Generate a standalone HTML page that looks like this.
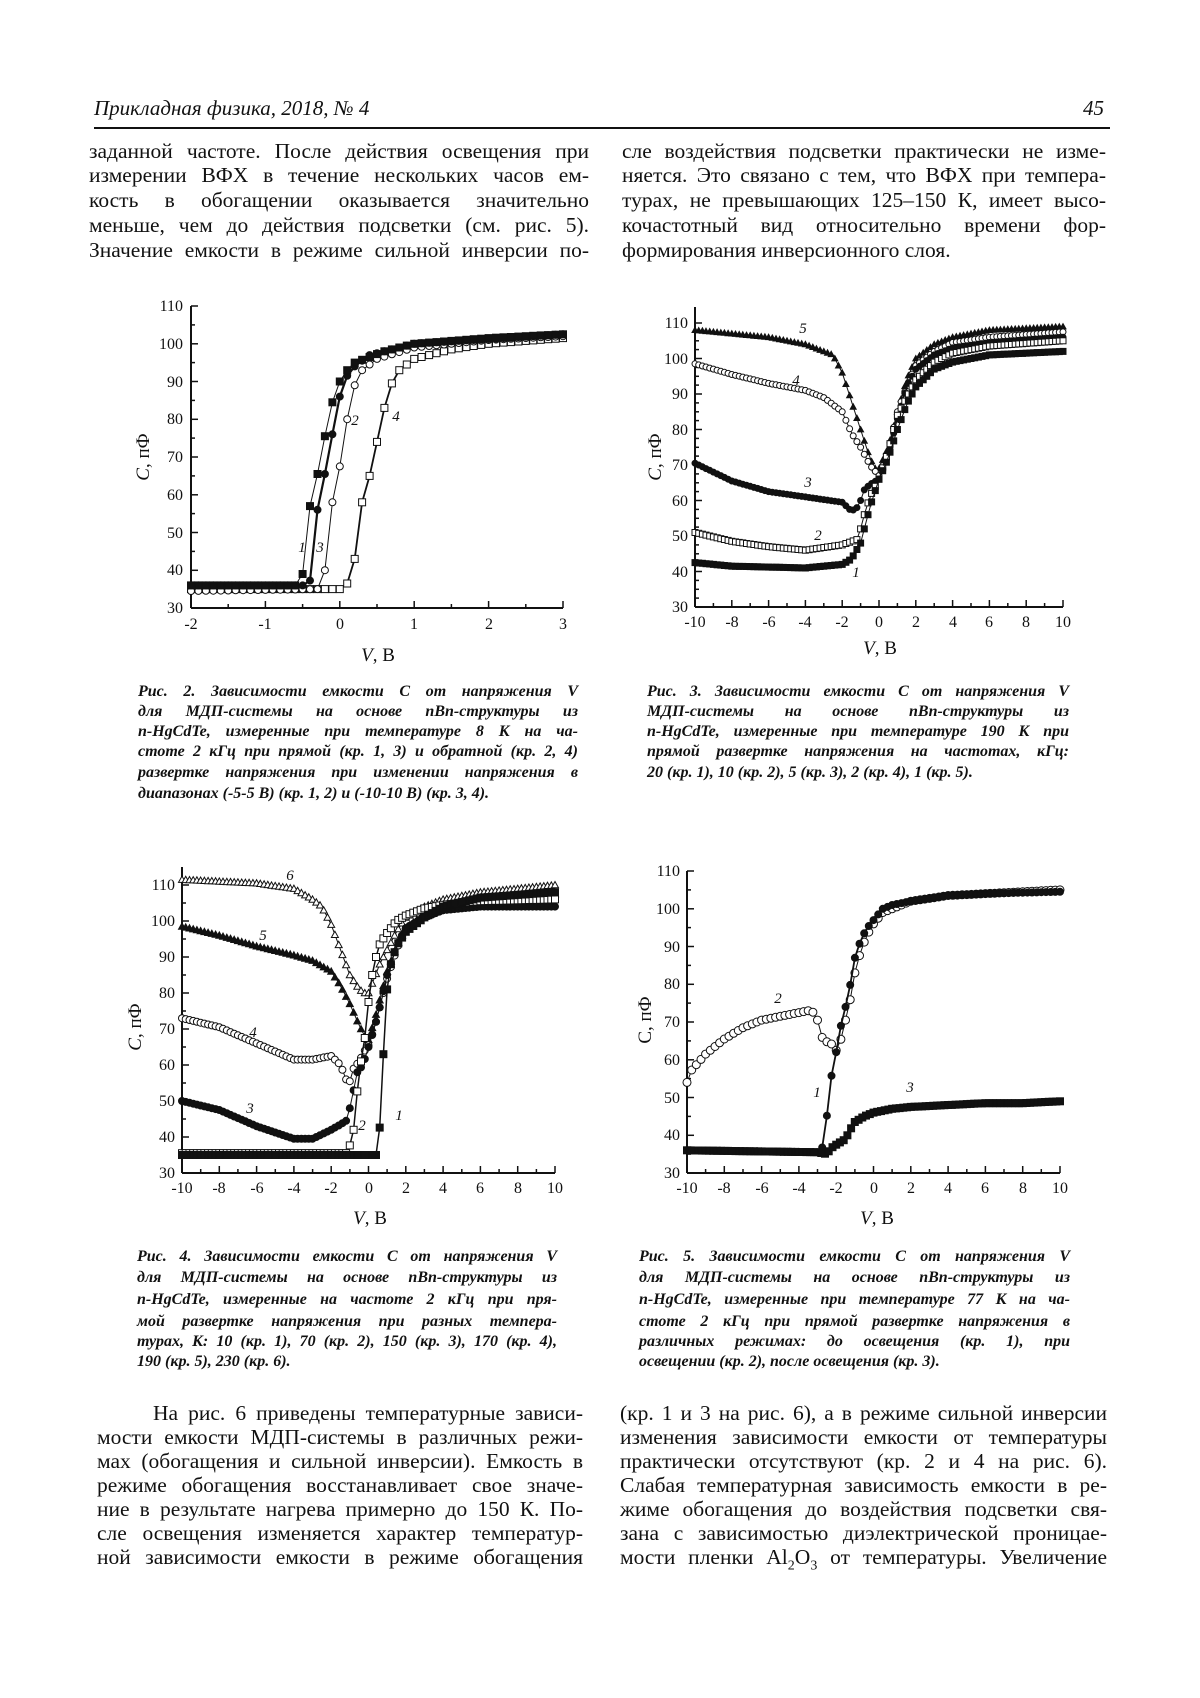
<!DOCTYPE html>
<html><head><meta charset="utf-8">
<style>
body{margin:0;background:#fff;}
#pg{position:relative;width:1200px;height:1698px;overflow:hidden;background:#fff;font-family:"Liberation Serif",serif;color:#111;}
.l{position:absolute;font-size:21.5px;line-height:24px;white-space:nowrap;text-align:justify;text-align-last:justify;}
.c{position:absolute;font-size:16px;line-height:20px;font-weight:bold;font-style:italic;white-space:nowrap;text-align:justify;text-align-last:justify;}
div.ll{text-align-last:left;}
svg{position:absolute;left:0;top:0;}
svg text{font-family:"Liberation Serif",serif;}
</style></head><body><div id="pg">
<div style="position:absolute;left:94px;top:96px;font-size:21px;font-style:italic;">Прикладная физика, 2018, № 4</div>
<div style="position:absolute;left:1083px;top:96px;font-size:21px;font-style:italic;">45</div>
<div style="position:absolute;left:94px;top:127px;width:1016px;height:1.5px;background:#111;"></div>

<div class="l" style="left:89px;top:139px;width:500px">заданной частоте. После действия освещения при</div>
<div class="l" style="left:89px;top:163px;width:500px">измерении ВФХ в течение нескольких часов ем-</div>
<div class="l" style="left:89px;top:188px;width:500px">кость в обогащении оказывается значительно</div>
<div class="l" style="left:89px;top:213px;width:500px">меньше, чем до действия подсветки (см. рис. 5).</div>
<div class="l" style="left:89px;top:238px;width:500px">Значение емкости в режиме сильной инверсии по-</div>

<div class="l" style="left:622px;top:139px;width:484px">сле воздействия подсветки практически не изме-</div>
<div class="l" style="left:622px;top:163px;width:484px">няется. Это связано с тем, что ВФХ при темпера-</div>
<div class="l" style="left:622px;top:188px;width:484px">турах, не превышающих 125–150 К, имеет высо-</div>
<div class="l" style="left:622px;top:213px;width:484px">кочастотный вид относительно времени фор-</div>
<div class="l ll" style="left:622px;top:238px;width:484px">формирования инверсионного слоя.</div>

<div class="c" style="left:138px;top:682px;width:440px">Рис. 2. Зависимости емкости С от напряжения V</div>
<div class="c" style="left:138px;top:702px;width:440px">для МДП-системы на основе nBn-структуры из</div>
<div class="c" style="left:138px;top:722px;width:440px">n-HgCdTe, измеренные при температуре 8 К на ча-</div>
<div class="c" style="left:138px;top:742px;width:440px">стоте 2 кГц при прямой (кр. 1, 3) и обратной (кр. 2, 4)</div>
<div class="c" style="left:138px;top:763px;width:440px">развертке напряжения при изменении напряжения в</div>
<div class="c ll" style="left:138px;top:784px;width:440px">диапазонах (-5-5 В) (кр. 1, 2) и (-10-10 В) (кр. 3, 4).</div>

<div class="c" style="left:647px;top:682px;width:422px">Рис. 3. Зависимости емкости С от напряжения V</div>
<div class="c" style="left:647px;top:702px;width:422px">МДП-системы на основе nBn-структуры из</div>
<div class="c" style="left:647px;top:722px;width:422px">n-HgCdTe, измеренные при температуре 190 К при</div>
<div class="c" style="left:647px;top:742px;width:422px">прямой развертке напряжения на частотах, кГц:</div>
<div class="c ll" style="left:647px;top:763px;width:422px">20 (кр. 1), 10 (кр. 2), 5 (кр. 3), 2 (кр. 4), 1 (кр. 5).</div>

<div class="c" style="left:137px;top:1247px;width:420px">Рис. 4. Зависимости емкости С от напряжения V</div>
<div class="c" style="left:137px;top:1268px;width:420px">для МДП-системы на основе nBn-структуры из</div>
<div class="c" style="left:137px;top:1290px;width:420px">n-HgCdTe, измеренные на частоте 2 кГц при пря-</div>
<div class="c" style="left:137px;top:1312px;width:420px">мой развертке напряжения при разных темпера-</div>
<div class="c" style="left:137px;top:1332px;width:420px">турах, К: 10 (кр. 1), 70 (кр. 2), 150 (кр. 3), 170 (кр. 4),</div>
<div class="c ll" style="left:137px;top:1352px;width:420px">190 (кр. 5), 230 (кр. 6).</div>

<div class="c" style="left:639px;top:1247px;width:431px">Рис. 5. Зависимости емкости С от напряжения V</div>
<div class="c" style="left:639px;top:1268px;width:431px">для МДП-системы на основе nBn-структуры из</div>
<div class="c" style="left:639px;top:1290px;width:431px">n-HgCdTe, измеренные при температуре 77 К на ча-</div>
<div class="c" style="left:639px;top:1312px;width:431px">стоте 2 кГц при прямой развертке напряжения в</div>
<div class="c" style="left:639px;top:1332px;width:431px">различных режимах: до освещения (кр. 1), при</div>
<div class="c ll" style="left:639px;top:1352px;width:431px">освещении (кр. 2), после освещения (кр. 3).</div>

<div class="l" style="left:153px;top:1401px;width:430px">На рис. 6 приведены температурные зависи-</div>
<div class="l" style="left:97px;top:1425px;width:486px">мости емкости МДП-системы в различных режи-</div>
<div class="l" style="left:97px;top:1449px;width:486px">мах (обогащения и сильной инверсии). Емкость в</div>
<div class="l" style="left:97px;top:1473px;width:486px">режиме обогащения восстанавливает свое значе-</div>
<div class="l" style="left:97px;top:1497px;width:486px">ние в результате нагрева примерно до 150 К. По-</div>
<div class="l" style="left:97px;top:1521px;width:486px">сле освещения изменяется характер температур-</div>
<div class="l" style="left:97px;top:1545px;width:486px">ной зависимости емкости в режиме обогащения</div>

<div class="l" style="left:620px;top:1401px;width:487px">(кр. 1 и 3 на рис. 6), а в режиме сильной инверсии</div>
<div class="l" style="left:620px;top:1425px;width:487px">изменения зависимости емкости от температуры</div>
<div class="l" style="left:620px;top:1449px;width:487px">практически отсутствуют (кр. 2 и 4 на рис. 6).</div>
<div class="l" style="left:620px;top:1473px;width:487px">Слабая температурная зависимость емкости в ре-</div>
<div class="l" style="left:620px;top:1497px;width:487px">жиме обогащения до воздействия подсветки свя-</div>
<div class="l" style="left:620px;top:1521px;width:487px">зана с зависимостью диэлектрической проницае-</div>
<div class="l" style="left:620px;top:1545px;width:487px">мости пленки Al<sub style="font-size:14px;line-height:0">2</sub>O<sub style="font-size:14px;line-height:0">3</sub> от температуры. Увеличение</div>

<svg id="s" width="1200" height="1698" viewBox="0 0 1200 1698">
<g font-size="16" fill="#111" text-anchor="end">
<text x="183" y="311">110</text><text x="183" y="349">100</text><text x="183" y="387">90</text><text x="183" y="424">80</text><text x="183" y="462">70</text><text x="183" y="500">60</text><text x="183" y="538">50</text><text x="183" y="575">40</text><text x="183" y="613">30</text>
<text x="688" y="328">110</text><text x="688" y="364">100</text><text x="688" y="399">90</text><text x="688" y="435">80</text><text x="688" y="470">70</text><text x="688" y="506">60</text><text x="688" y="541">50</text><text x="688" y="577">40</text><text x="688" y="612">30</text>
<text x="175" y="890">110</text><text x="175" y="926">100</text><text x="175" y="962">90</text><text x="175" y="998">80</text><text x="175" y="1034">70</text><text x="175" y="1070">60</text><text x="175" y="1106">50</text><text x="175" y="1142">40</text><text x="175" y="1178">30</text>
<text x="680" y="876">110</text><text x="680" y="914">100</text><text x="680" y="952">90</text><text x="680" y="989">80</text><text x="680" y="1027">70</text><text x="680" y="1065">60</text><text x="680" y="1103">50</text><text x="680" y="1140">40</text><text x="680" y="1178">30</text>
</g>
<g font-size="16" fill="#111" text-anchor="middle">
<text x="191" y="629">-2</text><text x="265" y="629">-1</text><text x="340" y="629">0</text><text x="414" y="629">1</text><text x="489" y="629">2</text><text x="563" y="629">3</text>
<text x="695" y="627">-10</text><text x="732" y="627">-8</text><text x="769" y="627">-6</text><text x="805" y="627">-4</text><text x="842" y="627">-2</text><text x="879" y="627">0</text><text x="916" y="627">2</text><text x="953" y="627">4</text><text x="989" y="627">6</text><text x="1026" y="627">8</text><text x="1063" y="627">10</text>
<text x="182" y="1193">-10</text><text x="219" y="1193">-8</text><text x="257" y="1193">-6</text><text x="294" y="1193">-4</text><text x="331" y="1193">-2</text><text x="369" y="1193">0</text><text x="406" y="1193">2</text><text x="443" y="1193">4</text><text x="480" y="1193">6</text><text x="518" y="1193">8</text><text x="555" y="1193">10</text>
<text x="687" y="1193">-10</text><text x="724" y="1193">-8</text><text x="762" y="1193">-6</text><text x="799" y="1193">-4</text><text x="836" y="1193">-2</text><text x="874" y="1193">0</text><text x="911" y="1193">2</text><text x="948" y="1193">4</text><text x="985" y="1193">6</text><text x="1023" y="1193">8</text><text x="1060" y="1193">10</text>
</g>
<g font-size="19" fill="#111" text-anchor="middle">
<text x="378" y="661"><tspan font-style="italic">V</tspan>, В</text>
<text x="880" y="654"><tspan font-style="italic">V</tspan>, В</text>
<text x="370" y="1224"><tspan font-style="italic">V</tspan>, В</text>
<text x="877" y="1224"><tspan font-style="italic">V</tspan>, В</text>
<text transform="translate(149,457) rotate(-90)"><tspan font-style="italic">C</tspan>, пФ</text>
<text transform="translate(661,457) rotate(-90)"><tspan font-style="italic">C</tspan>, пФ</text>
<text transform="translate(141,1027) rotate(-90)"><tspan font-style="italic">C</tspan>, пФ</text>
<text transform="translate(651,1020) rotate(-90)">C, пФ</text>
</g>
<g font-size="15" font-style="italic" fill="#111" text-anchor="middle">
<text x="302" y="552">1</text><text x="320" y="552">3</text><text x="355" y="425">2</text><text x="396" y="421">4</text>
<text x="803" y="333">5</text><text x="796" y="385">4</text><text x="808" y="487">3</text><text x="818" y="540">2</text><text x="856" y="577">1</text>
<text x="290" y="880">6</text><text x="263" y="940">5</text><text x="253" y="1037">4</text><text x="250" y="1113">3</text><text x="362" y="1130">2</text><text x="399" y="1120">1</text>
<text x="778" y="1003">2</text><text x="817" y="1097">1</text><text x="910" y="1092">3</text>
</g>
<g id="dyn"></g>
</svg>
</div>
<script>
var G=document.getElementById("dyn"),H=[];
function f(v){return v.toFixed(1);}
function ip(p,x){if(x<=p[0][0])return p[0][1];for(var i=1;i<p.length;i++){if(x<=p[i][0]){var a=p[i-1],b=p[i];return a[1]+(b[1]-a[1])*(x-a[0])/(b[0]-a[0]);}}return p[p.length-1][1];}
function mk(t,X,Y,s){var h=s/2,fill=(t[0]=='f'?'#111':'#fff');
 if(t[1]=='s')H.push('<rect x="'+f(X-h)+'" y="'+f(Y-h)+'" width="'+s+'" height="'+s+'" fill="'+fill+'" stroke="#111" stroke-width="1"/>');
 else if(t[1]=='c')H.push('<circle cx="'+f(X)+'" cy="'+f(Y)+'" r="'+h+'" fill="'+fill+'" stroke="#111" stroke-width="1"/>');
 else H.push('<polygon points="'+f(X)+','+f(Y-h)+' '+f(X+h)+','+f(Y+h*0.8)+' '+f(X-h)+','+f(Y+h*0.8)+'" fill="'+fill+'" stroke="#111" stroke-width="1"/>');}
function plot(A,C){
 var px=function(v){return A.px0+(v-A.x0)*(A.px1-A.px0)/(A.x1-A.x0)},py=function(v){return A.py0-(v-30)*(A.py0-A.py1)/80};
 H.push('<line x1="'+A.px0+'" y1="'+A.top+'" x2="'+A.px0+'" y2="'+A.py0+'" stroke="#111" stroke-width="2"/>');
 H.push('<line x1="'+A.px0+'" y1="'+A.py0+'" x2="'+A.px1+'" y2="'+A.py0+'" stroke="#111" stroke-width="2"/>');
 for(var v=30;v<=110;v+=A.ym){var maj=((v-30)%10==0);H.push('<line x1="'+A.px0+'" y1="'+f(py(v))+'" x2="'+(A.px0+(maj?7:4))+'" y2="'+f(py(v))+'" stroke="#111" stroke-width="1.5"/>');}
 for(var k=0;k<=Math.round((A.x1-A.x0)/A.xm);k++){var v=A.x0+k*A.xm;var maj=(k%A.xe==0);H.push('<line x1="'+f(px(v))+'" y1="'+A.py0+'" x2="'+f(px(v))+'" y2="'+(A.py0-(maj?7:4))+'" stroke="#111" stroke-width="1.5"/>');}
 C.forEach(function(c){var pts=[];for(var x=A.x0;x<=A.x1+1e-9;x+=c.st){pts.push([px(x),py(ip(c.p,x))]);}
  if(c.lw)H.push('<polyline fill="none" stroke="#111" stroke-width="'+c.lw+'" points="'+pts.map(function(q){return f(q[0])+','+f(q[1])}).join(' ')+'"/>');
  pts.forEach(function(q){mk(c.t,q[0],q[1],c.s)});});
}
plot({x0:-2,x1:3,px0:191,px1:563,py0:608,py1:306,top:306,ym:5,xm:0.5,xe:2},[
{t:'os',s:7,st:0.1,lw:1.8,p:[[-2,35],[0,35],[0.1,36.5],[0.2,43],[0.3,58],[0.4,65],[0.5,74],[0.6,83],[0.7,89.5],[0.8,93],[1,96],[1.5,98.5],[2,100],[3,101.5]]},
{t:'oc',s:7,st:0.1,lw:1,p:[[-2,34.5],[-0.3,35],[-0.2,40],[-0.1,58],[0,67.5],[0.1,80],[0.2,89],[0.3,93],[0.5,96],[1,99],[2,101],[3,102]]},
{t:'fc',s:7,st:0.1,lw:2.2,p:[[-2,36],[-0.45,36],[-0.35,38.5],[-0.3,56],[-0.2,65.5],[-0.1,76],[0,86],[0.1,91.5],[0.2,94],[0.4,97],[1,100],[3,102.5]]},
{t:'fs',s:7,st:0.1,lw:1,p:[[-2,36],[-0.55,36],[-0.5,39],[-0.4,57],[-0.3,65.5],[-0.2,75.5],[-0.1,84.5],[0,90],[0.1,93],[0.2,95],[0.4,96.5],[0.6,98],[1,100],[2,101.5],[3,102.5]]}
]);
plot({x0:-10,x1:10,px0:695,px1:1063,py0:607,py1:323,top:307,ym:2.5,xm:1,xe:2},[
{t:'ft',s:6,st:0.2,lw:1,p:[[-10,108],[-6,106],[-4,104],[-2.5,101],[-2,96],[-1.5,88],[-1,80],[-0.5,72],[-0.2,69],[0,69],[0.5,75],[1,85],[1.5,94],[2,100],[3,104],[4,106],[6,108],[10,109]]},
{t:'oc',s:6,st:0.2,lw:1,p:[[-10,98.5],[-8,95.5],[-6,93],[-4,91],[-3,89],[-2,85],[-1.5,79],[-1,75],[-0.5,70],[0,67],[0.5,74],[1,85],[1.5,92],[2,98],[3,102],[4,104.5],[6,106],[10,107.5]]},
{t:'fc',s:6,st:0.2,lw:1,p:[[-10,70.5],[-8,65.5],[-6,62.5],[-4,61],[-2,59.5],[-1.5,57],[-1.2,58],[-1,60],[-0.8,63],[-0.5,64.5],[0,66],[0.5,73],[1,83],[1.5,92],[2,97],[3,101],[4,103],[6,104.5],[10,106]]},
{t:'os',s:6,st:0.2,lw:1,p:[[-10,51],[-8,48.5],[-6,47],[-4,46],[-2,47.5],[-1.2,49],[-1,52],[-0.8,56],[-0.5,61],[0,66],[0.5,74],[1,84],[1.5,89],[2,94],[3,99],[4,101.5],[6,103.5],[10,105]]},
{t:'fs',s:6,st:0.2,lw:1,p:[[-10,42.5],[-8,41.5],[-4,41],[-2,42],[-1.5,43.5],[-1,48],[-0.8,52],[-0.5,58],[0,66],[0.5,72],[1,80],[1.5,87],[2,92],[3,97],[4,99],[6,101],[10,102]]}
]);
plot({x0:-10,x1:10,px0:182,px1:555,py0:1173,py1:885,top:867,ym:5,xm:1,xe:2},[
{t:'ot',s:7,st:0.2,lw:1,p:[[-10,111.5],[-6,110.5],[-4,109],[-3,106],[-2.5,104],[-2,99],[-1.5,92],[-1,85],[-0.5,81],[-0.2,80],[0,80],[0.3,84],[0.6,88],[1,92],[1.5,97],[2,101],[3,104],[4,106],[6,108],[10,110]]},
{t:'ft',s:7,st:0.2,lw:1,p:[[-10,98.5],[-8,96],[-6,93],[-4,90.5],[-3,89],[-2,86],[-1.5,82],[-1,77],[-0.5,71],[-0.2,68],[0,67],[0.3,72],[0.6,78],[1,86],[1.5,93],[2,98],[3,102],[4,104],[6,106],[10,107.5]]},
{t:'oc',s:7,st:0.2,lw:1,p:[[-10,73],[-8,70.5],[-6,66],[-4,61.5],[-3,61.5],[-2,62.5],[-1.5,60],[-1.2,56],[-1,55.5],[-0.8,59],[-0.5,61],[-0.2,64],[0,65.5],[0.3,70],[0.6,76],[1,84],[1.5,92],[2,98],[3,101],[4,103],[6,104.5],[10,106]]},
{t:'fc',s:7,st:0.2,lw:1,p:[[-10,50],[-8,47.5],[-6,43],[-4,39.5],[-3,39.5],[-2,42],[-1.5,43.5],[-1.2,44.5],[-1,48],[-0.8,53],[-0.6,58],[-0.3,60],[0,65],[0.3,70],[0.6,76],[1,85],[1.5,93],[2,98],[3,101],[4,103],[6,104],[10,104]]},
{t:'os',s:7,st:0.2,lw:1.5,p:[[-10,35.5],[-1.1,35.5],[-0.8,42],[-0.5,58],[-0.3,64],[-0.1,71],[0,77.5],[0.2,85],[0.4,90],[0.6,93.5],[0.9,96],[1.2,98],[1.5,100],[2,101.5],[3,103.5],[4,104.5],[6,105.5],[10,106]]},
{t:'fs',s:7,st:0.2,lw:1.5,p:[[-10,35],[0.5,35],[0.55,37.5],[0.8,63],[1,81],[1.2,88],[1.5,93],[2,97],[3,101],[4,104],[6,106.5],[10,108]]}
]);
plot({x0:-10,x1:10,px0:687,px1:1060,py0:1173,py1:871,top:871,ym:5,xm:1,xe:2},[
{t:'oc',s:8,st:0.25,lw:1,p:[[-10,54],[-9.8,57],[-9,61.5],[-8,65.5],[-7,68.5],[-6,70.5],[-5,71.5],[-4,72.5],[-3.5,73],[-3.2,72.5],[-3,70.5],[-2.7,65],[-2.3,64.5],[-2,62.5],[-1.7,66],[-1.5,70.5],[-1.2,77],[-1,83],[-0.7,88.5],[-0.4,92.5],[0,96],[0.5,99],[1,100],[2,102],[4,103.5],[6,104],[10,105]]},
{t:'fc',s:7,st:0.25,lw:1.8,p:[[-10,36],[-2.8,35.5],[-2.6,40.5],[-2.3,54.5],[-2,62],[-1.8,68],[-1.5,74],[-1.2,81],[-1,87],[-0.7,91.5],[-0.4,94.5],[0,97],[0.5,100],[1,101],[2,102],[4,103.5],[6,104],[10,104.5]]},
{t:'fs',s:7,st:0.2,lw:1,p:[[-10,36],[-3,35.5],[-2.5,35],[-2.3,36.5],[-2,37.5],[-1.5,39],[-1.3,41],[-1,43.5],[-0.5,45],[0,46],[1,47],[2,47.5],[4,48],[6,48.5],[8,48.5],[10,49]]}
]);
G.innerHTML=H.join('');
</script>
</body></html>
